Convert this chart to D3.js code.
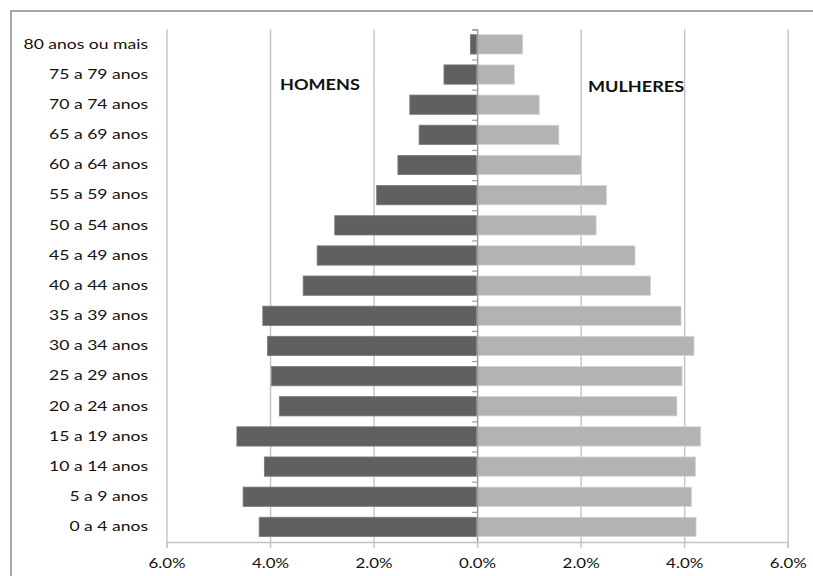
<!DOCTYPE html>
<html>
<head>
<meta charset="utf-8">
<script src="https://cdn.jsdelivr.net/npm/d3@7"></script>
<style>
  html, body { margin: 0; padding: 0; background: #fff; }
  svg { display: block; }
  text { font-family: Lato, "Noto Sans", sans-serif; fill: #111; }
</style>
</head>
<body>
<svg id="chart" width="813" height="576"></svg>
<script>
// Age groups, youngest first
const ageGroups = [
  "0 a 4 anos", "5 a 9 anos", "10 a 14 anos", "15 a 19 anos", "20 a 24 anos",
  "25 a 29 anos", "30 a 34 anos", "35 a 39 anos", "40 a 44 anos", "45 a 49 anos",
  "50 a 54 anos", "55 a 59 anos", "60 a 64 anos", "65 a 69 anos", "70 a 74 anos",
  "75 a 79 anos", "80 anos ou mais"
];
// Share of total population (%)
const homens = [4.21, 4.52, 4.11, 4.64, 3.82, 3.97, 4.05, 4.14, 3.36, 3.09,
                2.75, 1.94, 1.53, 1.12, 1.30, 0.64, 0.13];
const mulheres = [4.23, 4.14, 4.22, 4.32, 3.86, 3.96, 4.19, 3.94, 3.35, 3.05,
                  2.30, 2.50, 2.01, 1.58, 1.20, 0.72, 0.88];
const xTicks = [-6, -4, -2, 0, 2, 4, 6];
const seriesLabels = ["HOMENS", "MULHERES"];

const svg = d3.select("#chart");
const plot = { left: 166.5, right: 787.7, top: 29.3, bottom: 542 };
const colors = { homens: "#606060", mulheres: "#b3b3b3", grid: "#c3c3c3" };
const textStretch = 1.3;

// outer frame
svg.append("rect")
  .attr("x", 11).attr("y", 11).attr("width", 830).attr("height", 600)
  .attr("fill", "none").attr("stroke", "#8c8c8c").attr("stroke-width", 1.5);

const x = d3.scaleLinear().domain([-6, 6]).range([plot.left, plot.right]);
const y = d3.scaleBand()
  .domain(ageGroups.slice().reverse())
  .range([plot.top, plot.bottom])
  .paddingInner(0.36).paddingOuter(0.18);

// vertical gridlines
svg.append("g")
  .attr("transform", `translate(0,${plot.bottom})`)
  .call(d3.axisBottom(x).tickValues(xTicks).tickSize(-(plot.bottom - plot.top)).tickFormat(""))
  .call(g => g.select(".domain").remove())
  .call(g => g.selectAll("line").attr("stroke", colors.grid).attr("stroke-width", 1.4));

// bars
const rows = ageGroups.map((a, i) => ({ age: a, h: homens[i], m: mulheres[i] }));
svg.append("g").selectAll("rect").data(rows).join("rect")
  .attr("x", d => x(-d.h)).attr("y", d => y(d.age))
  .attr("width", d => x(0) - x(-d.h)).attr("height", y.bandwidth())
  .attr("fill", colors.homens).attr("stroke", "#7a7a7a").attr("stroke-width", 0.8);
svg.append("g").selectAll("rect").data(rows).join("rect")
  .attr("x", x(0)).attr("y", d => y(d.age))
  .attr("width", d => x(d.m) - x(0)).attr("height", y.bandwidth())
  .attr("fill", colors.mulheres).attr("stroke", "#d6d6d6").attr("stroke-width", 0.8);

// central axis with marks between age groups
const boundary = d3.scaleLinear().domain([0, ageGroups.length]).range([plot.top, plot.bottom]);
svg.append("g")
  .attr("transform", `translate(${x(0)},0)`)
  .call(d3.axisLeft(boundary).tickValues(d3.range(ageGroups.length + 1)).tickSize(5).tickFormat(""))
  .call(g => g.selectAll("line,path").attr("stroke", "#9a9a9a").attr("stroke-width", 1.2));

// bottom axis
const xAxis = svg.append("g")
  .attr("transform", `translate(0,${plot.bottom})`)
  .call(d3.axisBottom(x).tickValues(xTicks).tickSize(6).tickPadding(11)
    .tickFormat(d => Math.abs(d).toFixed(1) + "%"));
xAxis.select(".domain").attr("stroke", colors.grid).attr("stroke-width", 1.4);
xAxis.selectAll("line").attr("stroke", colors.grid).attr("stroke-width", 1.4);
xAxis.selectAll("text")
  .style("font-size", "13px").style("fill", "#111")
  .attr("transform", `scale(${textStretch},1)`);

// age group labels
const yAxis = svg.append("g")
  .attr("transform", `translate(148,0)`)
  .call(d3.axisLeft(y).tickSize(0).tickPadding(0));
yAxis.select(".domain").remove();
yAxis.selectAll("text")
  .style("font-size", "13.5px").style("fill", "#111")
  .attr("transform", `scale(${textStretch},1)`);

// series titles
function seriesTitle(label, left, baseline) {
  svg.append("text").attr("x", left).attr("y", baseline)
    .style("font-size", "16px").style("font-weight", "bold")
    .attr("transform", `translate(${left},0) scale(1.13,1) translate(${-left},0)`)
    .text(label);
}
seriesTitle(seriesLabels[0], 280, 90);
seriesTitle(seriesLabels[1], 588, 91.7);
</script>
</body>
</html>
